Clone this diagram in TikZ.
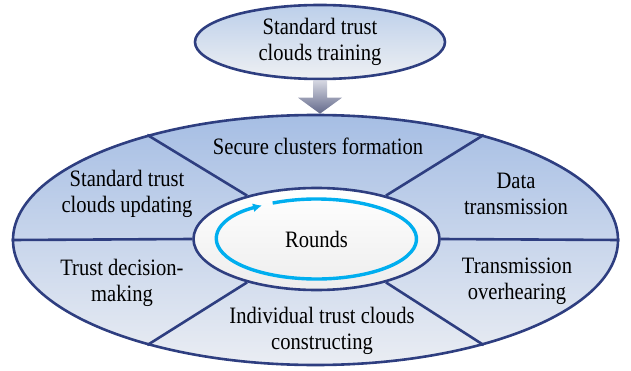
\documentclass[tikz,border=0pt]{standalone}
\usepackage{fontspec}
\setmainfont{Liberation Serif}[FakeStretch=0.875]
\usetikzlibrary{shapes.geometric, arrows.meta, calc}
\definecolor{rimblue}{RGB}{46,62,128}
\definecolor{ringtop}{RGB}{166,190,228}
\definecolor{ringbot}{RGB}{234,237,243}
\definecolor{traintop}{RGB}{188,207,234}
\definecolor{trainbot}{RGB}{238,240,243}
\definecolor{cyclecyan}{RGB}{0,174,239}
\definecolor{arrowtop}{RGB}{214,216,226}
\definecolor{arrowbot}{RGB}{98,104,138}
\tikzstyle{ringbox} = [ellipse, minimum width=605pt, minimum height=250pt, inner sep=0pt, draw=rimblue, line width=2.6pt, top color=ringtop, bottom color=ringbot]
\tikzstyle{corebox} = [ellipse, minimum width=246pt, minimum height=102pt, inner sep=0pt, draw=rimblue, line width=2.6pt, top color=white, bottom color=gray!14, font=\fontsize{23.5}{26}\selectfont]
\tikzstyle{topbox} = [ellipse, minimum width=250pt, minimum height=74pt, inner sep=0pt, draw=rimblue, line width=2.6pt, top color=traintop, bottom color=trainbot, align=center, font=\fontsize{23.5}{26}\selectfont]
\tikzstyle{stage} = [align=center, font=\fontsize{23.5}{26}\selectfont]
\tikzstyle{divider} = [draw=rimblue, line width=2.6pt]
\tikzstyle{roundarrow} = [cyclecyan, line width=3.4pt, -{Latex[length=9pt,width=9pt]}]
\tikzstyle{fatarrow} = [top color=arrowtop, bottom color=arrowbot]

\begin{document}
\begin{tikzpicture}[x=1pt, y=1pt]
\useasboundingbox (0,0) rectangle (631,370);
%outer ring and centre
\node (ring) [ringbox] at (315.5,130) {};
\node (core) [corebox] at (316.5,131) {Rounds};
\node (train) [topbox] at (320,328) {Standard trust\\clouds training};

%ring sectors
\foreach \a in {0,32,148,180,212,328}
  \draw [divider] (core.\a) -- (ring.\a);

%stage labels
\node (secure) [stage] at (318,224) {Secure clusters formation};
\node (update) [stage] at (127,176) {Standard trust\\clouds updating};
\node (data) [stage] at (516,176) {Data\\transmission};
\node (decide) [stage] at (122,87) {Trust decision-\\making};
\node (overhear) [stage] at (517,89) {Transmission\\overhearing};
\node (individual) [stage] at (322,39) {Individual trust clouds\\constructing};

%rounds cycle
\draw [roundarrow] ($(core.center)+(116:100 and 40)$) arc[start angle=116, end angle=-237, x radius=100, y radius=40];

%training feeds the ring
\coordinate (tip) at (train.south |- ring.north);
\shade [fatarrow] ($(train.south)+(-7,0)$) -- ($(tip)+(-7,16)$) -- ($(tip)+(-22,16)$) -- (tip)
  -- ($(tip)+(22,16)$) -- ($(tip)+(7,16)$) -- ($(train.south)+(7,0)$) -- cycle;
\end{tikzpicture}
\end{document}
